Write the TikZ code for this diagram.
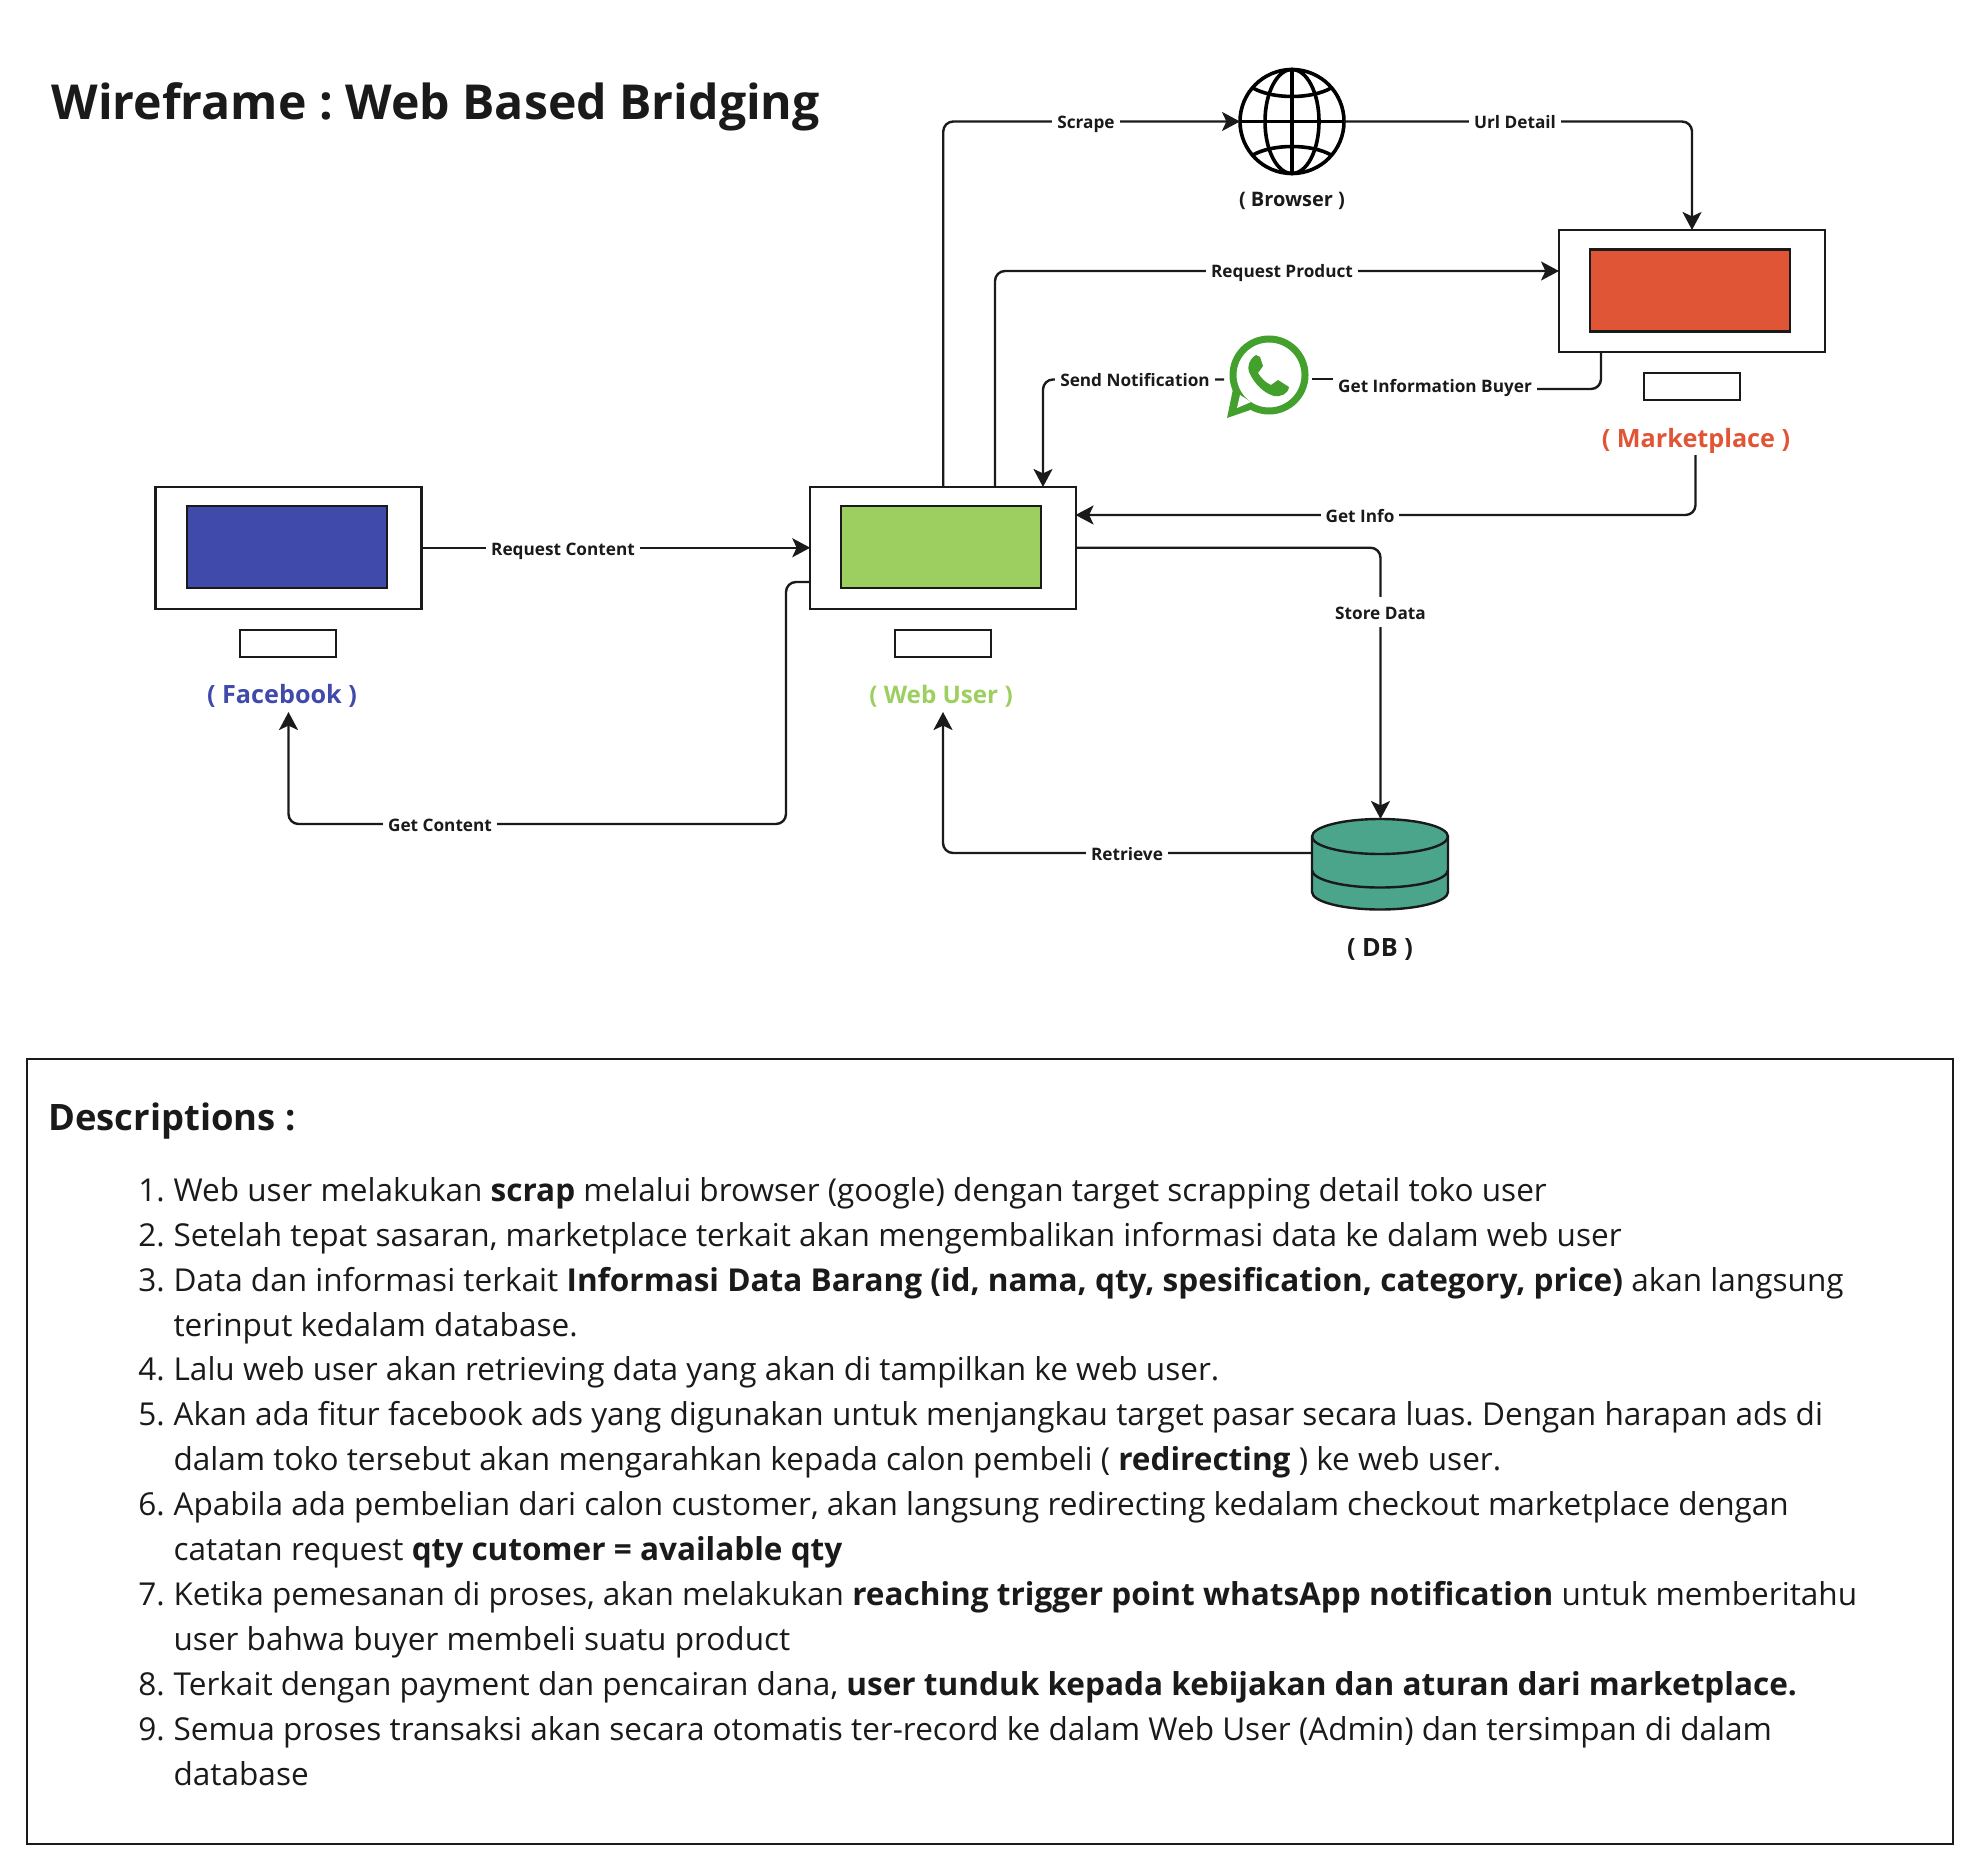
\documentclass[tikz,border=0pt]{standalone}
\usepackage{fontspec}
\setmainfont{Open Sans}
\usetikzlibrary{arrows.meta}

\definecolor{ink}{HTML}{1A1A1A}
\definecolor{fbblue}{HTML}{404AAB}
\definecolor{webgreen}{HTML}{9DCF60}
\definecolor{mkorange}{HTML}{E05535}
\definecolor{dbteal}{HTML}{4BA58A}
\definecolor{wagreen}{HTML}{43A02D}

\tikzset{
	frame/.style={draw=ink,line width=1.2pt,fill=white,minimum width=133pt,minimum height=61pt,outer sep=0pt,inner sep=0pt},
	screen/.style={draw=ink,line width=1.2pt,minimum width=100pt,minimum height=41pt,outer sep=0pt,inner sep=0pt},
	stand/.style={draw=ink,line width=1.2pt,fill=white,minimum width=48pt,minimum height=13.5pt,outer sep=0pt,inner sep=0pt},
	caption/.style={font=\fontsize{12.6}{15}\selectfont\bfseries,inner sep=0pt},
	edgelabel/.style={font=\fontsize{8.6}{10}\selectfont\bfseries,text=ink,fill=white,inner sep=2.5pt,text height=8.5pt,text depth=1.5pt},
	link/.style={draw=ink,line width=1.2pt,rounded corners=5pt,-{Stealth[length=9pt,width=9.5pt,inset=2.2pt]}},
	plainlink/.style={draw=ink,line width=1.2pt,rounded corners=5pt},
}

\newcommand{\numline}[2]{\makebox[17.6pt][l]{#1}#2}
\newcommand{\contline}[1]{\hspace*{17.6pt}#1}

\frenchspacing
\begin{document}
\begin{tikzpicture}[x=0.5pt,y=-0.5pt]
	\useasboundingbox (0,0) rectangle (1984,1872);
	
	% title
	\node[anchor=base west,inner sep=0pt,text=ink,font=\fontsize{24.1}{28}\selectfont\bfseries] (title) at (51,120) {Wireframe : Web Based Bridging};
	
	% monitors
	\node[frame] (fbframe) at (288.5,547.75) {};
	\node[screen,fill=fbblue] (fbscreen) at (287,547) {};
	\node[stand] (fbstand) at (288,643.5) {};
	\node[caption,text=fbblue] (fblabel) at (282,696) {( Facebook )};
	
	\node[frame] (webframe) at (943.25,547.75) {};
	\node[screen,fill=webgreen] (webscreen) at (941,547) {};
	\node[stand] (webstand) at (942.75,643.5) {};
	\node[caption,text=webgreen,font=\fontsize{12.1}{15}\selectfont\bfseries] (weblabel) at (941,696) {( Web User )};
	
	\node[frame] (mkframe) at (1692,291) {};
	\node[screen,fill=mkorange] (mkscreen) at (1690,290.5) {};
	\node[stand] (mkstand) at (1692,386.5) {};
	\node[caption,text=mkorange] (mklabel) at (1696,440.5) {( Marketplace )};
	
	% browser
	\node[circle,draw=black,line width=1.8pt,minimum size=52pt,inner sep=0pt,outer sep=0pt] (browser) at (1292,121.5) {};
	\begin{scope}[shift={(browser.center)},line width=1.8pt]
		\draw (0,-53) -- (0,53);
		\draw (-53,0) -- (53,0);
		\draw (0,0) ellipse (13.5pt and 26pt);
		\draw (-40,-34) .. controls (-20,-22) and (20,-22) .. (40,-34);
		\draw (-40,34) .. controls (-20,22) and (20,22) .. (40,34);
	\end{scope}
	\node[caption,text=ink,font=\fontsize{10}{12}\selectfont\bfseries] (browserlabel) at (1292,201) {( Browser )};
	
	% whatsapp
	\node[circle,draw=wagreen,line width=3.5pt,minimum size=36pt,inner sep=0pt,outer sep=0pt] (whatsapp) at (1269,375) {};
	\begin{scope}[shift={(whatsapp.center)}]
		\fill[wagreen] (-36,14) -- (-42,43) -- (-13,33) -- cycle;
		\fill[white] (-29,20) -- (-32,33) -- (-18,27) -- cycle;
		\fill[wagreen] (-13,-20) .. controls (-20,-16) and (-22,-8) .. (-20,-3)
			.. controls (-14,10) and (-5,18) .. (5,21)
			.. controls (12,22) and (19,19) .. (20,12)
			-- (9,5) -- (2,10)
			.. controls (-3,8) and (-8,3) .. (-11,-2)
			-- (-6,-9) -- (-9,-18) -- cycle;
	\end{scope}
	\coordinate (wawest) at (1224,379.5);
	\coordinate (waeast) at (1312,379);
	
	% database
	\begin{scope}[line width=1.2pt]
		\draw[draw=ink,fill=dbteal] (1312,836.5) -- (1312,892) arc[start angle=180,end angle=360,x radius=34pt,y radius=8.75pt] -- (1448,836.5) arc[start angle=0,end angle=180,x radius=34pt,y radius=8.75pt] -- cycle;
		\draw[draw=ink] (1312,836.5) arc[start angle=180,end angle=360,x radius=34pt,y radius=8.75pt];
		\draw[draw=ink] (1312,870) arc[start angle=180,end angle=360,x radius=34pt,y radius=8.75pt];
	\end{scope}
	\coordinate (dbtop) at (1380.5,819);
	\coordinate (dbleft) at (1312,853);
	\node[caption,text=ink] (dblabel) at (1380,949.5) {( DB )};
	
	% connectors
	\coordinate (webcaptionin) at (943,712);
	\coordinate (fbcaptionin) at (288.5,712);
	\draw[link] (webframe.north) |- (browser.west);
	\draw[link] (browser.east) -| (mkframe.north);
	\coordinate (reqstart) at (995,487);
	\coordinate (reqend) at (1559,271);
	\draw[link] (reqstart) |- (reqend);
	\coordinate (notifend) at (1043,487);
	\draw[link] (wawest) -| (notifend);
	\coordinate (buyerstart) at (1601,352);
	\coordinate (buyermid) at (1440,389);
	\draw[plainlink] (buyerstart) |- (buyermid);
	\draw[plainlink,rounded corners=0pt] (buyermid) -- (1440,379) -- (waeast);
	\coordinate (infostart) at (1695.5,455);
	\coordinate (infoend) at (1075.5,515);
	\draw[link] (infostart) |- (infoend);
	\draw[link] (webframe.east) -| (dbtop);
	\draw[link] (dbleft) -| (webcaptionin);
	\draw[link] (fbframe.east) -- (webframe.west);
	\coordinate (contentstart) at (810,582);
	\draw[link] (contentstart) -- (786,582) |- (600,824) -| (fbcaptionin);
	
	% connector labels
	\node[edgelabel] (scrapelabel) at (1086,121.5) {Scrape};
	\node[edgelabel] (urllabel) at (1515,121.5) {Url Detail};
	\node[edgelabel] (reqproductlabel) at (1282,271) {Request Product};
	\node[edgelabel] (notiflabel) at (1135,379.5) {Send Notification};
	\node[edgelabel] (buyerlabel) at (1435,385) {Get Information Buyer};
	\node[edgelabel] (infolabel) at (1360,515) {Get Info};
	\node[edgelabel] (storelabel) at (1380.5,612) {Store Data};
	\node[edgelabel] (retrievelabel) at (1127,853) {Retrieve};
	\node[edgelabel] (reqcontentlabel) at (563,548) {Request Content};
	\node[edgelabel] (getcontentlabel) at (440,824) {Get Content};
	
	% description box
	\node[draw=ink,line width=1.3pt,minimum width=963pt,minimum height=392.5pt,inner sep=0pt,outer sep=0pt] (descbox) at (990,1451.5) {};
	\node[anchor=base west,inner sep=0pt,text=ink,font=\fontsize{18.2}{20}\selectfont\bfseries] (desctitle) at (48,1130) {Descriptions :};
	\node[anchor=north west,inner sep=0pt,align=left,text=ink,font=\fontsize{15.77}{22.45}\selectfont] (desclist) at (138,1177) {%
		\numline{1.}{Web user melakukan \textbf{scrap} melalui browser (google) dengan target scrapping detail toko user}\\
		\numline{2.}{Setelah tepat sasaran, marketplace terkait akan mengembalikan informasi data ke dalam web user}\\
		\numline{3.}{Data dan informasi terkait \textbf{Informasi Data Barang (id, nama, qty, spesification, category, price)} akan langsung}\\
		\contline{terinput kedalam database.}\\
		\numline{4.}{Lalu web user akan retrieving data yang akan di tampilkan ke web user.}\\
		\numline{5.}{Akan ada fitur facebook ads yang digunakan untuk menjangkau target pasar secara luas. Dengan harapan ads di}\\
		\contline{dalam toko tersebut akan mengarahkan kepada calon pembeli ( \textbf{redirecting} ) ke web user.}\\
		\numline{6.}{Apabila ada pembelian dari calon customer, akan langsung redirecting kedalam checkout marketplace dengan}\\
		\contline{catatan request \textbf{qty cutomer = available qty}}\\
		\numline{7.}{Ketika pemesanan di proses, akan melakukan \textbf{reaching trigger point whatsApp notification} untuk memberitahu}\\
		\contline{user bahwa buyer membeli suatu product}\\
		\numline{8.}{Terkait dengan payment dan pencairan dana, \textbf{user tunduk kepada kebijakan dan aturan dari marketplace.}}\\
		\numline{9.}{Semua proses transaksi akan secara otomatis ter-record ke dalam Web User (Admin) dan tersimpan di dalam}\\
		\contline{database}};
	
\end{tikzpicture}
\end{document}
